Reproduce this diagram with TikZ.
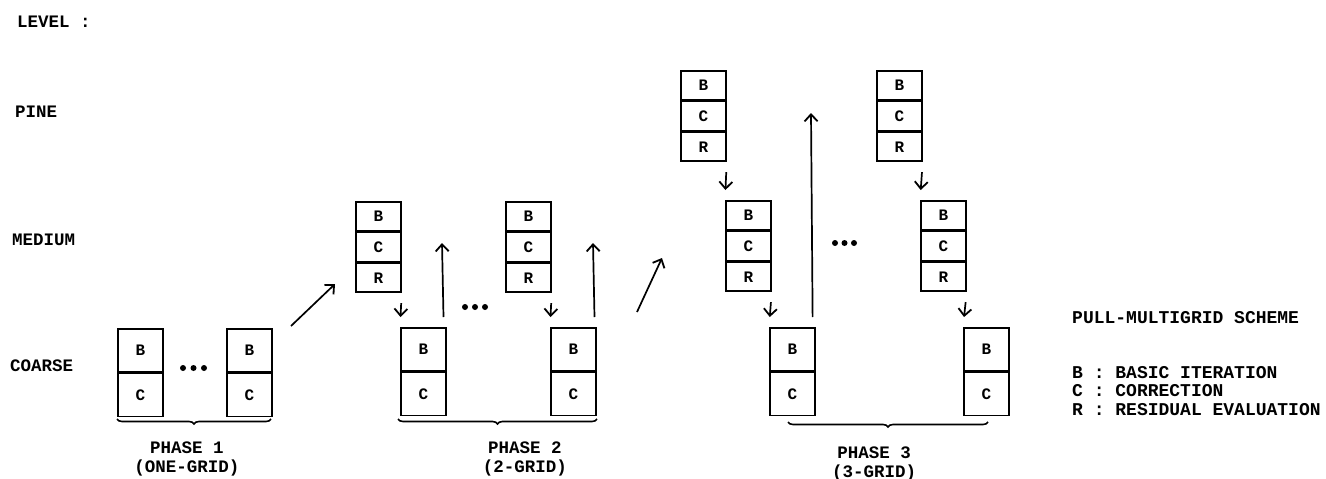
\documentclass[tikz,border=0pt]{standalone}
\usepackage{fontspec}
\setmainfont{Liberation Mono}
\usetikzlibrary{arrows.meta,decorations.pathreplacing}
\begin{document}
\begin{tikzpicture}[x=1pt,y=-1pt,
  cellbox/.style={draw, line width=1.7pt, minimum width=45pt, inner sep=0pt, anchor=north west, font=\bfseries\fontsize{16}{16}\selectfont},
  rc/.style={cellbox, minimum height=29pt},
  cc/.style={cellbox, minimum height=43pt},
  arr/.style={line width=1.7pt, -{Straight Barb[length=7pt,width=13pt,line width=1.8pt]}},
  sarr/.style={arr, shorten <=10pt, shorten >=10pt},
  lbl/.style={font=\bfseries\fontsize{17.5}{18.5}\selectfont, inner sep=0pt},
  brc/.style={decorate, decoration={brace, mirror, amplitude=5pt}, line width=1.6pt},
  dot/.style={fill=black}
]
\useasboundingbox (0,0) rectangle (1326,479);

% level labels
\node[lbl, anchor=west] (lev) at (17,22) {LEVEL :};
\node[lbl, anchor=west] (fine) at (15,112) {PINE};
\node[lbl, anchor=west] (med) at (12,240) {MEDIUM};
\node[lbl, anchor=west] (coa) at (10,366) {COARSE};

% Phase 1
\node[cc] (P1aB) at (117,328) {B};
\node[cc] (P1aC) at (P1aB.south west) {C};
\node[cc] (P1bB) at (226,328) {B};
\node[cc] (P1bC) at (P1bB.south west) {C};
\foreach \x in {183,193.5,204} \fill[dot] (\x,368) circle (3pt);

% Phase 2
\node[rc] (M2aB) at (355,201) {B};
\node[rc] (M2aC) at (M2aB.south west) {C};
\node[rc] (M2aR) at (M2aC.south west) {R};
\node[cc] (C2aB) at (400,327) {B};
\node[cc] (C2aC) at (C2aB.south west) {C};
\node[rc] (M2bB) at (505,201) {B};
\node[rc] (M2bC) at (M2bB.south west) {C};
\node[rc] (M2bR) at (M2bC.south west) {R};
\node[cc] (C2bB) at (550,327) {B};
\node[cc] (C2bC) at (C2bB.south west) {C};
\foreach \x in {465,475,485} \fill[dot] (\x,307) circle (3pt);

% Phase 3
\node[rc] (F3aB) at (680,70) {B};
\node[rc] (F3aC) at (F3aB.south west) {C};
\node[rc] (F3aR) at (F3aC.south west) {R};
\node[rc] (M3aB) at (725,200) {B};
\node[rc] (M3aC) at (M3aB.south west) {C};
\node[rc] (M3aR) at (M3aC.south west) {R};
\node[cc] (C3aB) at (769,327) {B};
\node[cc] (C3aC) at (C3aB.south west) {C};
\node[rc] (F3bB) at (876,70) {B};
\node[rc] (F3bC) at (F3bB.south west) {C};
\node[rc] (F3bR) at (F3bC.south west) {R};
\node[rc] (M3bB) at (920,200) {B};
\node[rc] (M3bC) at (M3bB.south west) {C};
\node[rc] (M3bR) at (M3bC.south west) {R};
\node[cc] (C3bB) at (963,327) {B};
\node[cc] (C3bC) at (C3bB.south west) {C};
\foreach \x in {835,844.5,854} \fill[dot] (\x,243) circle (3pt);

% down arrows
\draw[sarr] (M2aR.south east) -- (C2aB.north west);
\draw[sarr] (M2bR.south east) -- (C2bB.north west);
\draw[sarr] (F3aR.south east) -- (M3aB.north west);
\draw[sarr] (M3aR.south east) -- (C3aB.north west);
\draw[sarr] (F3bR.south east) -- (M3bB.north west);
\draw[sarr] (M3bR.south east) -- (C3bB.north west);

% up arrows
\coordinate (u2a) at (442,243);
\coordinate (u2b) at (593,243);
\coordinate (u3a) at (811,113);
\draw[arr, shorten <=10pt] ([xshift=-3pt]C2aB.north east) -- (u2a);
\draw[arr, shorten <=10pt] ([xshift=-2pt]C2bB.north east) -- (u2b);
\draw[arr, shorten <=10pt] ([xshift=-3pt]C3aB.north east) -- (u3a);

% diagonal arrows
\coordinate (d1s) at (291,326);
\coordinate (d1e) at (335,284);
\coordinate (d2s) at (637,312);
\coordinate (d2e) at (662,258);
\draw[arr] (d1s) -- (d1e);
\draw[arr] (d2s) -- (d2e);

% braces
\coordinate (b1s) at (117,419);
\coordinate (b1e) at (271,419);
\coordinate (b2s) at (398,419);
\coordinate (b2e) at (597,419);
\coordinate (b3s) at (788,422);
\coordinate (b3e) at (988,422);
\draw[brc] (b1s) -- (b1e);
\draw[brc] (b2s) -- (b2e);
\draw[brc] (b3s) -- (b3e);

% phase labels
\node[lbl, align=center] (ph1) at (187,459) {PHASE 1\\(ONE-GRID)};
\node[lbl, align=center] (ph2) at (525,459) {PHASE 2\\(2-GRID)};
\node[lbl, align=center] (ph3) at (874,464) {PHASE 3\\(3-GRID)};

% legend
\node[lbl, anchor=west, font=\bfseries\fontsize{18}{18.5}\selectfont] (title) at (1072,318) {PULL-MULTIGRID SCHEME};
\node[lbl, anchor=north west, align=left, font=\bfseries\fontsize{18}{18.5}\selectfont] (legend) at (1072,366) {B : BASIC ITERATION\\C : CORRECTION\\R : RESIDUAL EVALUATION};
\end{tikzpicture}
\end{document}
